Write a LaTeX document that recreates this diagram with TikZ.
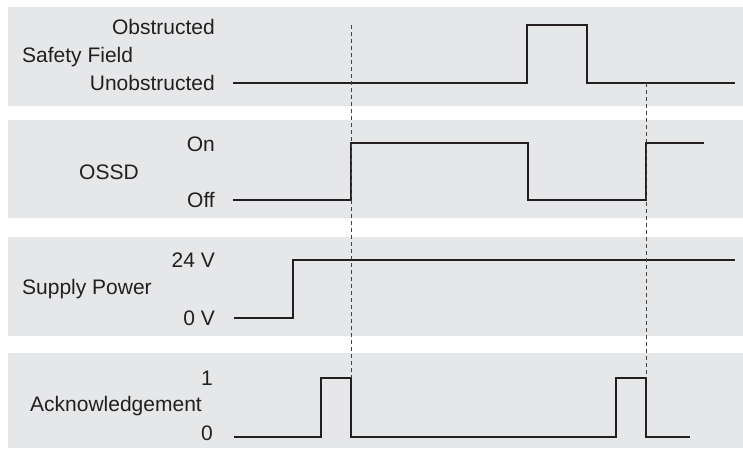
\documentclass[tikz,border=0pt]{standalone}
\usepackage{fontspec}
\setmainfont{Liberation Sans}
\usetikzlibrary{positioning}
\definecolor{bandgray}{RGB}{230, 231, 232}
\definecolor{inkdark}{RGB}{35, 31, 32}

\begin{document}
\begin{tikzpicture}[
        x=1pt, y=-1pt,
        band/.style={fill=bandgray, draw=none},
        signal/.style={draw=inkdark, line width=1.9pt, line join=miter},
        guide/.style={draw=inkdark!85, line width=0.8pt, dash pattern=on 4pt off 3pt},
        level/.style={anchor=base east, yshift=-7.5pt, inner sep=0pt,
                      text=inkdark, font=\fontsize{21}{25}\selectfont},
        sigtitle/.style={level, anchor=base west},
    ]
        \useasboundingbox (0,0) rectangle (743,448);
        \foreach \top/\bot in {7/106, 120/218, 237/336, 353/448}
            \fill[band] (8,\top) rectangle (743,\bot);

        % labels
        \node[level] (obs) at (215,27) {Obstructed};
        \node[sigtitle] (sf) at (22,55) {Safety Field};
        \node[level] (unobs) at (215,83) {Unobstructed};
        \node[level] (on) at (215,144) {On};
        \node[sigtitle, anchor=base] (ossd) at (109,172) {OSSD};
        \node[level] (off) at (215,200) {Off};
        \node[level] (high) at (215,260) {24 V};
        \node[sigtitle] (pwr) at (22,287) {Supply Power};
        \node[level] (low) at (215,318) {0 V};
        \node[level] (one) at (213,378) {1};
        \node[sigtitle] (ack) at (30,404) {Acknowledgement};
        \node[level] (zero) at (213,433) {0};

        % waveforms
        \draw[signal] (233,83) -- (527,83) -- (527,25) -- (587,25) -- (587,83) -- (735,83);
        \draw[signal] (233,200) -- (351,200) -- (351,143) -- (528,143) -- (528,200)
            -- (646,200) -- (646,143) -- (704,143);
        \draw[signal] (234,318) -- (293,318) -- (293,260) -- (735,260);
        \draw[signal] (234,437) -- (321,437) -- (321,378) -- (351,378) -- (351,437)
            -- (616,437) -- (616,378) -- (646,378) -- (646,437) -- (690,437);

        % timing guides
        \coordinate (resetTop) at (351,25);
        \coordinate (resetBot) at (351,378);
        \coordinate (clearTop) at (646,83);
        \coordinate (clearBot) at (646,378);
        \draw[guide] (resetTop) -- (resetBot);
        \draw[guide] (clearTop) -- (clearBot);
    \end{tikzpicture}
\end{document}
